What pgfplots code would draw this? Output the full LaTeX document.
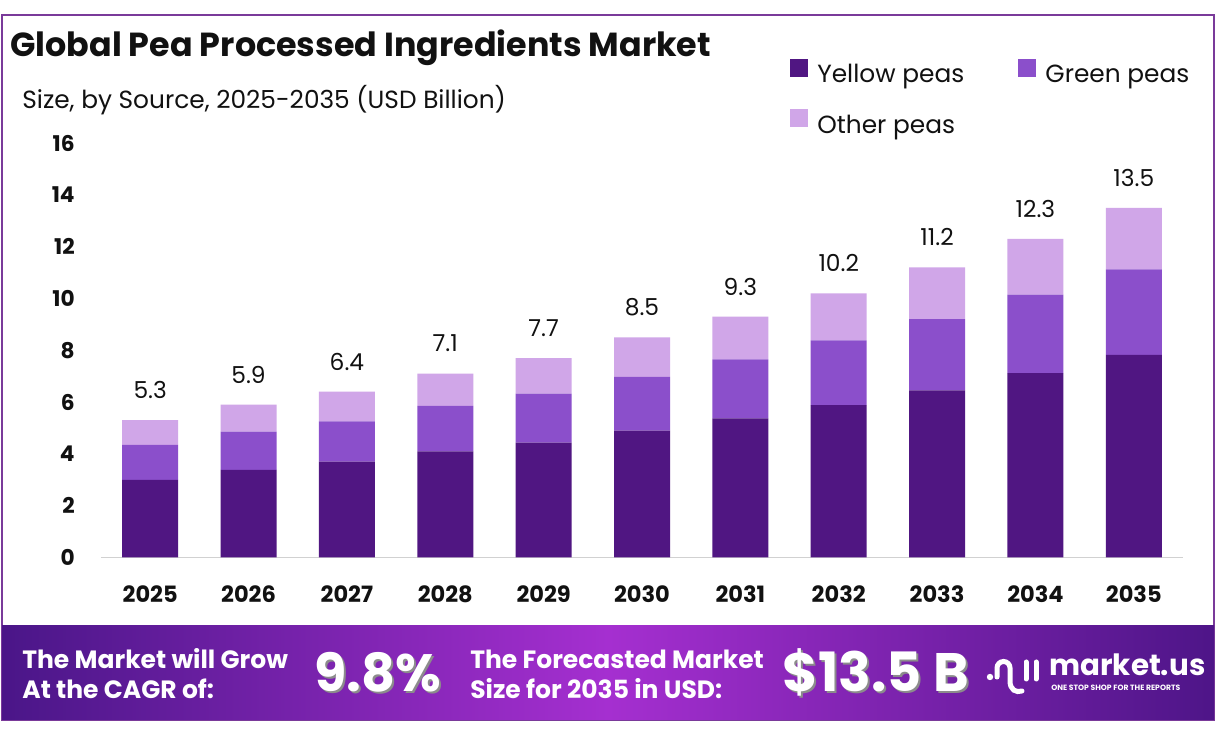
\documentclass[border=0pt]{standalone}
\usepackage{fontspec}
\setmainfont{Poppins}
\usepackage{pgfplots}
\usepackage{pgfplotstable}
\pgfplotsset{compat=1.18}
\definecolor{cY}{HTML}{501682}
\definecolor{cG}{HTML}{8B4FCB}
\definecolor{cO}{HTML}{D0A6E8}
\definecolor{cBorder}{HTML}{7A3A9A}
\definecolor{cBanL}{HTML}{4A1688}
\definecolor{cBanM}{HTML}{A52FD0}
\definecolor{cBanR}{HTML}{4E1588}
\definecolor{cTxt}{HTML}{111111}
\pgfplotstableread{
x y g o t
0 3.00 1.35 0.95 5.3
1 3.38 1.48 1.04 5.9
2 3.70 1.55 1.15 6.4
3 4.10 1.75 1.25 7.1
4 4.43 1.90 1.37 7.7
5 4.90 2.07 1.53 8.5
6 5.37 2.28 1.65 9.3
7 5.88 2.50 1.82 10.2
8 6.45 2.75 2.00 11.2
9 7.12 3.03 2.15 12.3
10 7.82 3.30 2.38 13.5
}\datatable
\begin{document}
\begin{tikzpicture}[x=0.6pt,y=0.6pt]
\useasboundingbox (0,0) rectangle (1216,737);
\fill[white] (0,0) rectangle (1216,737);
\draw[cBorder, line width=1.5pt] (2,17) rectangle (1214,722);
\node[anchor=west, font=\bfseries\fontsize{20}{22}\selectfont, inner sep=0, text=cTxt] at (10,689) {Global Pea Processed Ingredients Market};
\node[anchor=west, font=\fontsize{14.9}{17}\selectfont, inner sep=0, text=cTxt] at (22,637) {Size, by Source, 2025-2035 (USD Billion)};
\begin{axis}[
  at={(60.6pt,107.7pt)}, anchor=south west,
  scale only axis, width=649.2pt, height=248.7pt,
  xmin=-0.5, xmax=10.5, ymin=0, ymax=16,
  ybar stacked, bar width=33.6pt,
  /pgf/number format/assume math mode=true,
  axis x line*=bottom, axis y line*=left,
  x axis line style={draw=black!18, line width=1pt},
  y axis line style={draw=none},
  tick style={draw=none},
  ytick={0,2,...,16},
  xtick={0,...,10},
  xticklabels={2025,2026,2027,2028,2029,2030,2031,2032,2033,2034,2035},
  yticklabel style={font=\bfseries\fontsize{13}{15}\selectfont, anchor=east, inner sep=0pt, xshift=-15.6pt, text=cTxt},
  xticklabel style={font=\bfseries\fontsize{13.5}{15}\selectfont, anchor=center, inner sep=0pt, yshift=-21.9pt, text=cTxt},
  legend columns=2,
  legend cell align=left,
  legend style={at={(0.6368,1.11)}, anchor=west, draw=none, fill=none, inner sep=0pt,
    font=\fontsize{14.9}{17}\selectfont, text=cTxt,
    nodes={inner sep=0pt},
    row sep=14.4pt,
    /tikz/every odd column/.append style={column sep=5.4pt},
    /tikz/every even column/.append style={column sep=32.5pt}},
  legend image code/.code={\fill[#1] (0pt,-1.2pt) rectangle (10.8pt,9.6pt);},
  clip=false,
]
\addplot[fill=cY, draw=none] table[x=x,y=y]{\datatable};
\addlegendentry{Yellow peas}
\addplot[fill=cG, draw=none] table[x=x,y=g]{\datatable};
\addlegendentry{Green peas}
\addplot[fill=cO, draw=none, point meta=explicit,
  visualization depends on={\thisrow{o} \as \oval},
  nodes near coords={\pgfmathprintnumber[fixed,precision=1]{\pgfplotspointmeta}},
  every node near coord/.append style={font=\fontsize{14}{16}\selectfont, text=cTxt, anchor=center, yshift={18pt+7.772pt*\oval}}]
  table[x=x,y=o,meta=t]{\datatable};
\addlegendentry{Other peas}
\end{axis}
% banner
\shade[left color=cBanL, right color=cBanR, middle color=cBanM] (2,17) rectangle (1214,111);
\node[anchor=west, align=left, text=white, font=\bfseries\fontsize{15}{18}\selectfont, inner sep=0] at (22,63) {The Market will Grow\\At the CAGR of:};
\node[text=black!45, font=\bfseries\fontsize{31.5}{32}\selectfont, inner sep=0] at (380,63) {9.8\%};
\node[text=white, font=\bfseries\fontsize{31.5}{32}\selectfont, inner sep=0] at (378,65) {9.8\%};
\node[anchor=west, align=left, text=white, font=\bfseries\fontsize{15}{18}\selectfont, inner sep=0] at (470,63) {The Forecasted Market\\Size for 2035 in USD:};
\node[text=black!45, font=\bfseries\fontsize{32.5}{33}\selectfont, inner sep=0] at (878,63) {\$13.5 B};
\node[text=white, font=\bfseries\fontsize{32.5}{33}\selectfont, inner sep=0] at (876,65) {\$13.5 B};
% logo
\fill[white] (990,60) circle (3.2);
\draw[white, line width=3pt, line cap=round] (997,60) -- (997,69) arc (180:0:6.5) -- (1010,56) .. controls (1010,47) and (1016,44) .. (1022,46);
\draw[white, line width=3pt, line cap=round] (1026,75) -- (1026,58);
\draw[white, line width=3pt, line cap=round] (1036,75) -- (1036,58);
\node[anchor=west, text=white, font=\bfseries\fontsize{17.6}{19}\selectfont, inner sep=0] at (1049,72) {market.us};
\node[anchor=west, text=white, font=\bfseries\fontsize{4.6}{5}\selectfont, inner sep=0] at (1051,49) {ONE STOP SHOP FOR THE REPORTS};
\end{tikzpicture}
\end{document}
